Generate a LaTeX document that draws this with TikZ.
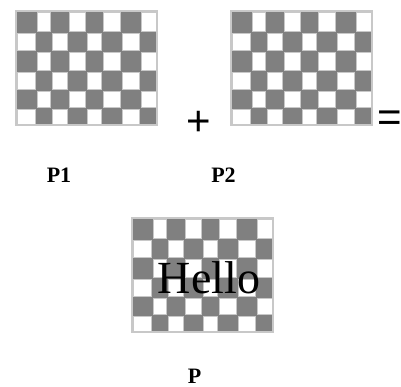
\documentclass[tikz,border=0pt]{standalone}
\usepackage{fontspec}
\setmainfont{Liberation Serif}
\newfontfamily\opfont{Liberation Sans}
\usetikzlibrary{positioning}
\definecolor{cellgray}{HTML}{808080}
\definecolor{framegray}{HTML}{C8C8C8}

% checker board with its top left corner at (#1,#2), 8 x 6 cells
\newcommand{\checkerboard}[2]{%
  \begin{scope}[shift={(#1,#2)}]
    \fill[cellgray] (0,0) rectangle (141,114);
    \foreach \xa/\xb [count=\i] in {0/20,20/35,35/52,52/70,70/86,86/105,105/124,124/141}{
      \foreach \ya/\yb [count=\j] in {0/21,21/40,40/60,60/79,79/97,97/114}{
        \pgfmathtruncatemacro{\odd}{mod(\i+\j,2)}
        \ifnum\odd=1
          \filldraw[fill=white,draw=framegray,line width=0.5pt]
            (\xa+1,\ya+1) rectangle (\xb-1,\yb-1);
        \fi
      }
    }
    \draw[framegray,line width=1.2pt] (0,0) rectangle (141,114);
  \end{scope}
}

\begin{document}
\begin{tikzpicture}[x=1pt,y=-1pt]
  \tikzstyle{lbl}=[font=\fontsize{22}{22}\selectfont\bfseries,anchor=base,inner sep=0pt]
  \tikzstyle{op}=[font=\opfont\fontsize{42}{42}\selectfont,anchor=base,inner sep=0pt]
  \useasboundingbox (0,0) rectangle (401,387);

  \checkerboard{16}{11}
  \checkerboard{231}{11}
  \checkerboard{132}{218}

  \node[op] (plus) at (199,136) {+};
  \node[op] (eq) at (390,132) {=};

  \node[lbl] (p1) at (59,183) {P1};
  \node[lbl] (p2) at (223.5,183) {P2};

  \node[font=\fontsize{46}{46}\selectfont,anchor=base,inner sep=0pt,
        text=black] (hello) at (209,293) {Hello};
  \node[lbl] (p) at (194.5,383) {P};
\end{tikzpicture}
\end{document}
